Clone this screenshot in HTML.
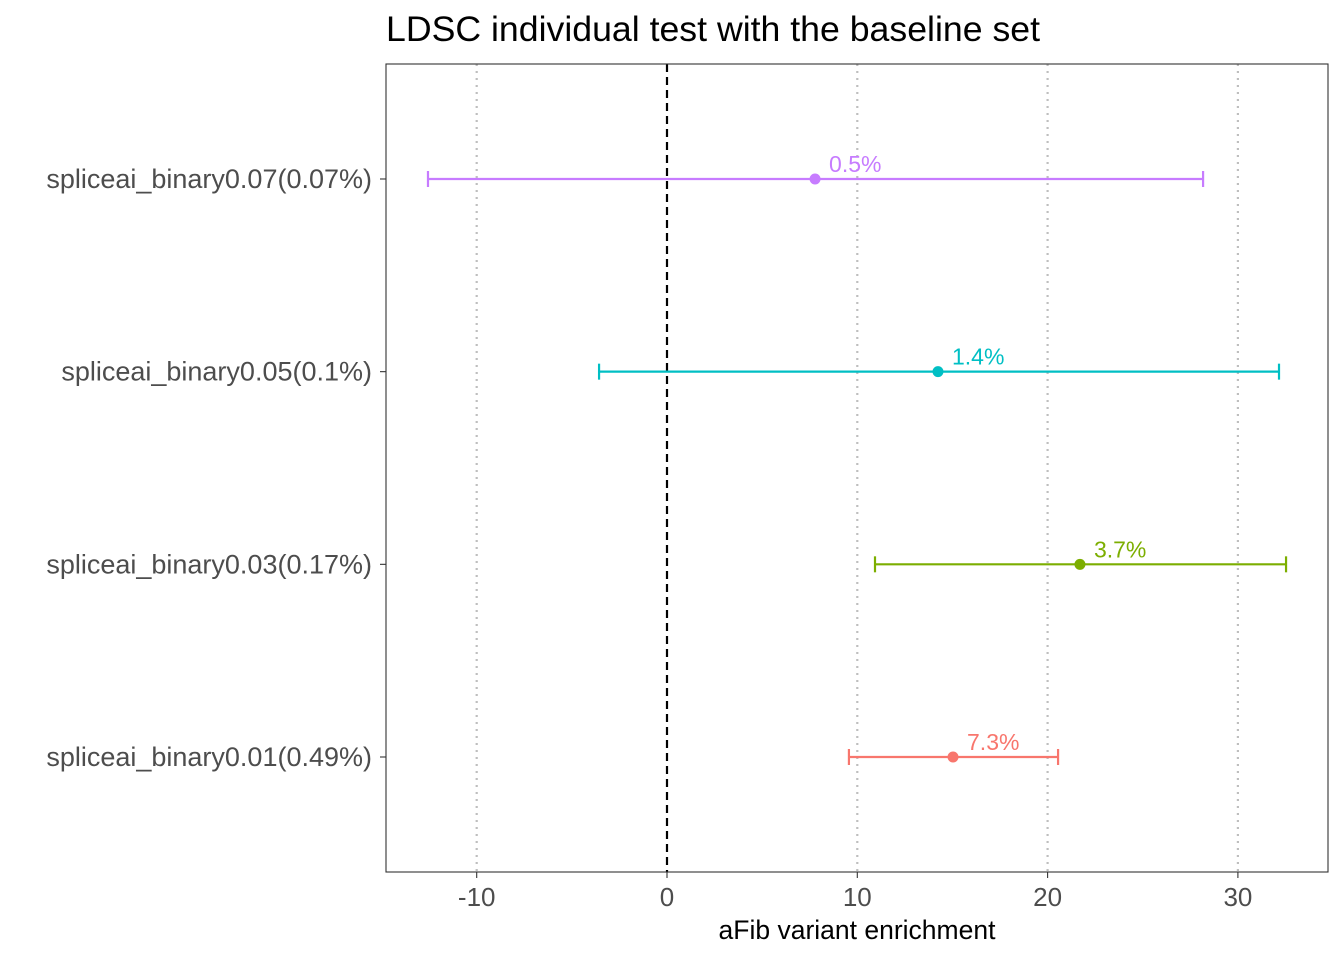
<!DOCTYPE html>
<html><head><meta charset="utf-8"><style>
body{margin:0;background:#fff;}
svg{display:block;font-family:"Liberation Sans",sans-serif;}
</style></head><body>
<svg id="chart" width="1344" height="960" viewBox="0 0 1344 960">
<text x="386" y="41" font-size="35" textLength="654" lengthAdjust="spacingAndGlyphs" fill="#000">LDSC individual test with the baseline set</text>
<g id="grid"></g>
<g id="marks"></g>
<rect x="386" y="64" width="942" height="808" fill="none" stroke="#333" stroke-width="1.1"/>
<g id="axes"></g>
<text x="857" y="939" font-size="26.5" text-anchor="middle" fill="#000">aFib variant enrichment</text>
</svg>
<script>
const categories=["spliceai_binary0.01(0.49%)","spliceai_binary0.03(0.17%)","spliceai_binary0.05(0.1%)","spliceai_binary0.07(0.07%)"];
const estimates=[15.03,21.70,14.24,7.78];
const lows=[9.56,10.93,-3.57,-12.56];
const highs=[20.55,32.53,32.16,28.17];
const pointLabels=["7.3%","3.7%","1.4%","0.5%"];
const xTicks=[-10,0,10,20,30];
const colors=["#F8766D","#7CAE00","#00BFC4","#C77CFF"];
const NS="http://www.w3.org/2000/svg";
function X(v){return 667+v*19.03;}
function Y(i){return 757-i*192.67;}
function mk(tag,attrs,parent){const e=document.createElementNS(NS,tag);for(const k in attrs)e.setAttribute(k,attrs[k]);parent.appendChild(e);return e;}
const grid=document.getElementById('grid'),marks=document.getElementById('marks'),axes=document.getElementById('axes');
xTicks.forEach(t=>{
  if(t!==0){const g=mk('line',{x1:X(t),x2:X(t),y1:64,y2:872,stroke:'#bebebe','stroke-width':2.2,'stroke-dasharray':'2 5'},grid);
  
  }
  const tk=mk('line',{x1:X(t),x2:X(t),y1:872,y2:878,stroke:'#333','stroke-width':1.1},axes);
  
  
  const tl=mk('text',{x:X(t),y:906,'font-size':26,'text-anchor':'middle',fill:'#4d4d4d'},axes);
  tl.textContent=t;
  
  
});
const zl=mk('line',{x1:X(0),x2:X(0),y1:64,y2:872,stroke:'#000','stroke-width':2.2,'stroke-dasharray':'8 5'},grid);


categories.forEach((c,i)=>{
  const y=Y(i),col=colors[i];
  const tk=mk('line',{x1:380,x2:386,y1:y,y2:y,stroke:'#333','stroke-width':1.1},axes);
  
  
  const tl=mk('text',{x:372,y:y+9,'font-size':27,'text-anchor':'end',fill:'#4d4d4d'},axes);
  tl.textContent=c;
  
  
  const g=mk('g',{stroke:col,'stroke-width':2.2},marks);
  
  
  mk('line',{x1:X(lows[i]),x2:X(highs[i]),y1:y,y2:y},g);
  mk('line',{x1:X(lows[i]),x2:X(lows[i]),y1:y-8,y2:y+8},g);
  mk('line',{x1:X(highs[i]),x2:X(highs[i]),y1:y-8,y2:y+8},g);
  const p=mk('circle',{cx:X(estimates[i]),cy:y,r:5.5,fill:col},marks);
  
  
  const l=mk('text',{x:X(estimates[i])+14,y:y-7,'font-size':23,fill:col},marks);
  l.textContent=pointLabels[i];
  
  
});
</script>
</body></html>
